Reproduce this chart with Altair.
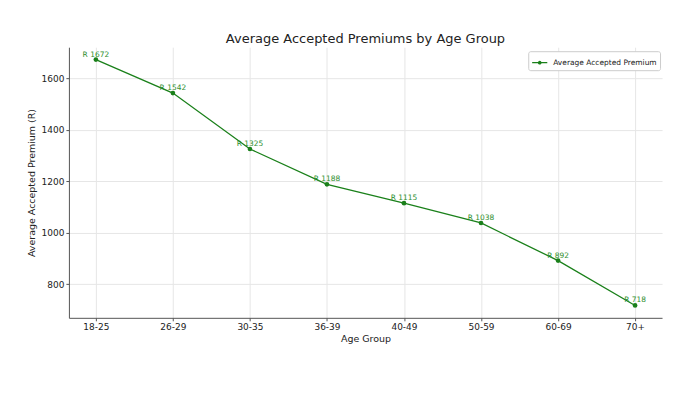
import altair as alt
import pandas as pd

age_groups = ["18-25", "26-29", "30-35", "36-39", "40-49", "50-59", "60-69", "70+"]
premiums = [1672, 1542, 1325, 1188, 1115, 1038, 892, 718]
series_name = "Average Accepted Premium"

df = pd.DataFrame({
    "Age Group": age_groups,
    "Premium": premiums,
    "Series": [series_name] * len(age_groups),
})
df["Label"] = ["R " + str(v) for v in premiums]

FONT = "DejaVu Sans"
GREEN = "#1a801a"
LINE_DOT = "M-1,0L1,0M-0.16,0A0.16,0.16,0,1,1,0.16,0A0.16,0.16,0,1,1,-0.16,0Z"

x_enc = alt.X(
    "Age Group:N",
    sort=age_groups,
    scale=alt.Scale(type="point", padding=0.35),
    axis=alt.Axis(
        title="Age Group", labelAngle=0, grid=True, gridColor="#e6e6e6",
        domainColor="#555555", tickColor="#555555", labelFontSize=9,
        titleFontSize=9.5, labelColor="#222222", titleColor="#222222",
        titleFontWeight="normal", tickSize=3, labelPadding=2, titlePadding=2,
    ),
)
y_enc = alt.Y(
    "Premium:Q",
    scale=alt.Scale(domain=[670, 1720], nice=False, zero=False),
    axis=alt.Axis(
        title="Average Accepted Premium (R)", values=[800, 1000, 1200, 1400, 1600],
        format="d",
        grid=True, gridColor="#e6e6e6", domainColor="#555555", tickColor="#555555",
        labelFontSize=9, titleFontSize=9.5, labelColor="#222222", titleColor="#222222",
        titleFontWeight="normal", tickSize=3, labelPadding=2, titlePadding=5,
    ),
)

color_enc = alt.Color(
    "Series:N",
    scale=alt.Scale(domain=[series_name], range=[GREEN]),
    legend=alt.Legend(
        title=None, orient="none", legendX=460, legendY=4,
        labelFontSize=7.5, labelFont=FONT, labelColor="#222222",
        symbolType=LINE_DOT, symbolStrokeWidth=1.3, symbolSize=230,
        symbolFillColor=GREEN, symbolStrokeColor=GREEN,
        strokeColor="#cccccc", fillColor="white", padding=3, cornerRadius=2,
        labelOffset=5,
    ),
)

line = alt.Chart(df).mark_line(strokeWidth=1.3, point=alt.OverlayMarkDef(filled=True, size=22)).encode(
    x=x_enc, y=y_enc, color=color_enc
)

labels = alt.Chart(df).mark_text(
    font=FONT, fontSize=7.5, color="#2f8f2f", dy=-5, baseline="middle", align="center"
).encode(x=x_enc, y=y_enc, text="Label:N")

chart = (line + labels).properties(
    width=594,
    height=271,
    autosize=alt.AutoSizeParams(type="none"),
    padding={"left": 61, "top": 39, "right": 30, "bottom": 60},
    title=alt.TitleParams(
        "Average Accepted Premiums by Age Group", font=FONT, fontSize=13,
        fontWeight="normal", color="#222222", anchor="middle", offset=1,
    ),
).configure_view(stroke=None).configure_axis(labelFont=FONT, titleFont=FONT)

chart.save("out.html", embed_options={"renderer": "svg", "actions": False})
